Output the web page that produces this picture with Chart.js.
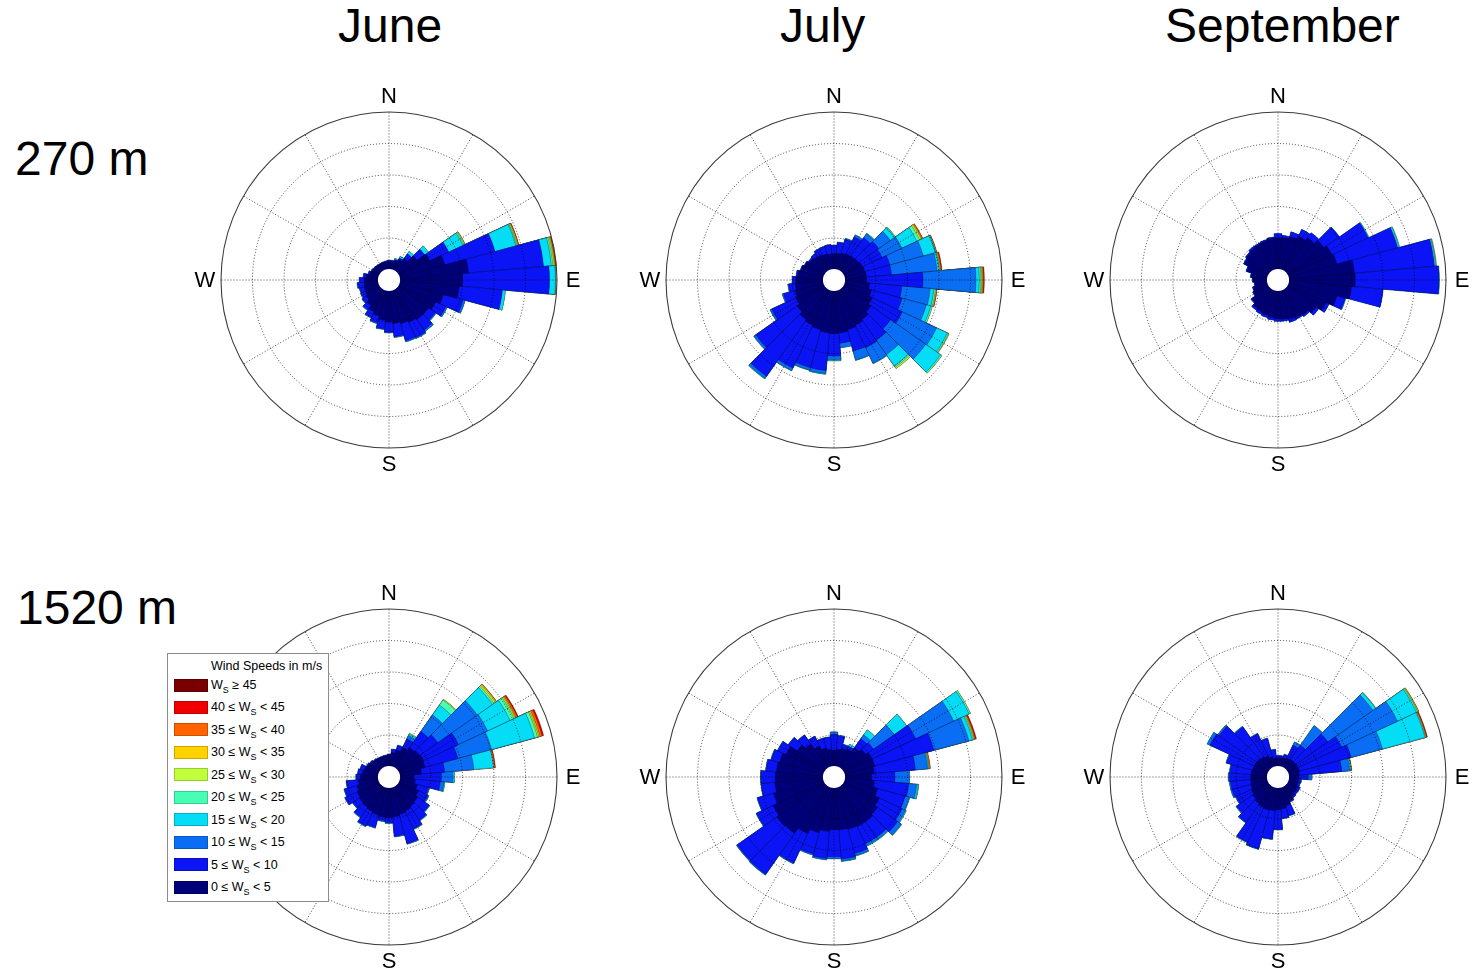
<!DOCTYPE html>
<html>
<head>
<meta charset="utf-8">
<title>Wind roses – June, July, September at 270 m and 1520 m</title>
<script src="https://cdn.jsdelivr.net/npm/chart.js@4.4.1/dist/chart.umd.min.js"></script>
<style>
  html, body { margin: 0; padding: 0; background: #fff; }
  body { position: relative; width: 1472px; height: 972px; overflow: hidden;
         font-family: "Liberation Sans", Arial, Helvetica, sans-serif; color: #000; }
  .big { position: absolute; font-size: 48px; line-height: 48px; white-space: nowrap; }
  .rose { position: absolute; width: 420px; height: 420px; }
  .legend { position: absolute; left: 167px; top: 653px; width: 160px; height: 247px;
            border: 1px solid #8c8c8c; background: #fff; z-index: 5; font-size: 12.5px; }
  .legend .head { position: absolute; left: 43px; top: 5px; white-space: nowrap; }
  .legend .row { position: absolute; left: 6px; height: 14px; white-space: nowrap;
                 display: flex; align-items: center; }
  .legend .sw { width: 34px; height: 13px; box-sizing: border-box; margin-right: 3px;
                border: 1px solid rgba(0,0,0,0.2); }
  .legend sub { font-size: 9px; vertical-align: -4px; line-height: 0; }
</style>
</head>
<body>

<div class="big" style="left:338px; top:2px;">June</div>
<div class="big" style="left:780px; top:2px;">July</div>
<div class="big" style="left:1165px; top:2px;">September</div>
<div class="big" style="left:15px; top:135px;">270 m</div>
<div class="big" style="left:17px; top:584px;">1520 m</div>

<div class="rose" style="left:179px; top:70px;"><canvas id="jun270" width="420" height="420"></canvas></div>
<div class="rose" style="left:624px; top:70px;"><canvas id="jul270" width="420" height="420"></canvas></div>
<div class="rose" style="left:1068px; top:70px;"><canvas id="sep270" width="420" height="420"></canvas></div>
<div class="rose" style="left:179px; top:567px;"><canvas id="jun1520" width="420" height="420"></canvas></div>
<div class="rose" style="left:624px; top:567px;"><canvas id="jul1520" width="420" height="420"></canvas></div>
<div class="rose" style="left:1068px; top:567px;"><canvas id="sep1520" width="420" height="420"></canvas></div>

<div class="legend" id="legend"><div class="head">Wind Speeds in m/s</div></div>

<script>
// Direction bins (degrees clockwise from north), 10° wide, centred on the value
const DIRECTIONS = [0,10,20,30,40,50,60,70,80,90,100,110,120,130,140,150,160,170,
                    180,190,200,210,220,230,240,250,260,270,280,290,300,310,320,330,340,350];

// Wind-speed classes (m/s): lower bounds; the last class is open-ended
const SPEED_BOUNDS = [0,5,10,15,20,25,30,35,40,45];
const SPEED_COLORS = ['#000078','#0a14f5','#0a6ef5','#05dcf5','#46ffb4',
                      '#c0ff3c','#ffd200','#ff6400','#f00000','#780000'];

// Frequency rings (one per unit) and the blank centre below zero
const RING_VALUES = [0,1,2,3,4,5];
const HOLE_VALUE = -1/3;
const SPOKE_ANGLES = [0,30,60,90,120,150,180,210,240,270,300,330];
const COMPASS = [['N',0],['E',90],['S',180],['W',270]];

/* ---------- June, 270 m ---------- */
const JUN270_0_5 = [
  .25,.26,.30,.38,.50,.75,1.10,1.50,2.20,2.00,1.90,1.45,
  1.30,1.20,1.20,1.15,1.10,1.05,1.00,.95,.85,.78,.65,.55,
  .50,.48,.46,.45,.40,.30,.27,.26,.25,.24,.24,.25];
const JUN270_5_10 = [
  .04,.03,.04,.06,.18,.30,.66,1.65,2.39,2.76,1.38,.65,
  .36,.26,.40,.53,.56,.42,.32,.27,.22,.19,.17,.15,
  .15,.15,.21,.15,.08,.05,.02,.01,.01,.01,.02,.02];
const JUN270_10_15 = [
  .01,.01,0,0,0,0,0,0,0,0,0,.07,
  .05,.04,.06,.04,.04,.03,.03,.03,.03,.03,.03,.02,
  .02,.02,.02,.02,.02,.01,.01,.01,.01,.01,.01,.01];
const JUN270_15_20 = [
  0,0,.04,.06,.10,.15,.50,.69,.25,.19,.10,0,
  0,0,0,0,0,0,0,0,0,0,0,0,
  0,0,0,0,0,0,0,0,0,0,0,0];
const JUN270_20_25 = [
  0,0,0,0,0,0,.04,.03,.05,.01,0,0,
  0,0,0,0,0,0,0,0,0,0,0,0,
  0,0,0,0,0,0,0,0,0,0,0,0];
const JUN270_25_30 = [
  0,0,0,0,0,0,.03,.03,.04,.01,0,0,
  0,0,0,0,0,0,0,0,0,0,0,0,
  0,0,0,0,0,0,0,0,0,0,0,0];
const JUN270_30_35 = [
  0,0,0,0,0,0,.01,.02,.03,0,0,0,
  0,0,0,0,0,0,0,0,0,0,0,0,
  0,0,0,0,0,0,0,0,0,0,0,0];
const JUN270_35_40 = [
  0,0,0,0,0,0,0,.02,.02,0,0,0,
  0,0,0,0,0,0,0,0,0,0,0,0,
  0,0,0,0,0,0,0,0,0,0,0,0];
const JUN270_40_45 = [
  0,0,0,0,0,0,0,0,.01,0,0,0,
  0,0,0,0,0,0,0,0,0,0,0,0,
  0,0,0,0,0,0,0,0,0,0,0,0];

/* ---------- July, 270 m ---------- */
const JUL270_0_5 = [
  .50,.52,.55,.58,.60,.62,.65,.68,.70,.70,.80,.90,
  1.00,1.10,1.20,1.25,1.30,1.35,1.37,1.35,1.30,1.25,1.20,1.10,
  1.00,.95,.90,.88,.82,.75,.68,.62,.58,.55,.52,.50];
const JUL270_5_10 = [
  .26,.34,.45,.60,.70,.78,.70,.82,.80,1.79,1.03,1.00,
  1.06,.76,.80,.79,.70,.33,.71,1.20,1.25,1.50,2.20,1.60,
  .85,.38,.21,.10,.05,.02,.03,.04,.11,.21,.25,.29];
const JUL270_10_15 = [
  .02,.02,.04,.07,.16,.45,.70,1.10,1.45,1.68,.90,.80,
  1.20,1.36,.56,.54,.30,.15,.11,.10,.08,.09,.08,.07,
  .05,.04,.03,.02,.01,.01,.01,.01,.01,.01,.01,.01];
const JUL270_15_20 = [
  0,0,0,0,.02,.17,.52,.40,.07,.11,.12,.15,
  .38,.58,.44,.02,.01,0,.03,.02,.01,.01,.02,.01,
  .01,0,0,0,0,0,0,0,0,0,0,0];
const JUL270_20_25 = [
  0,0,0,0,0,.03,.10,.02,.01,.05,.05,.05,
  .04,.05,.05,0,0,0,.02,0,0,0,0,0,
  0,0,0,0,0,0,0,0,0,0,0,0];
const JUL270_25_30 = [
  0,0,0,0,0,0,.05,.01,0,.03,0,0,
  .02,0,.05,0,0,0,0,0,0,0,0,0,
  0,0,0,0,0,0,0,0,0,0,0,0];
const JUL270_30_35 = [
  0,0,0,0,0,0,.03,0,.03,.03,.03,0,
  0,0,0,0,0,0,0,0,0,0,0,0,
  0,0,0,0,0,0,0,0,0,0,0,0];
const JUL270_35_40 = [
  0,0,0,0,0,0,.03,.02,.03,.03,.02,0,
  0,0,0,0,0,0,0,0,0,0,0,0,
  0,0,0,0,0,0,0,0,0,0,0,0];
const JUL270_40_45 = [
  0,0,0,0,0,0,0,0,.02,.02,0,0,
  0,0,0,0,0,0,0,0,0,0,0,0,
  0,0,0,0,0,0,0,0,0,0,0,0];

/* ---------- September, 270 m ---------- */
const SEP270_0_5 = [
  1.00,1.02,1.10,1.20,1.30,1.45,1.55,1.60,2.10,2.12,2.00,1.60,
  1.35,1.15,1.02,.98,.95,.92,.90,.87,.83,.80,.78,.68,
  .53,.48,.41,.46,.52,.68,.84,.89,.93,.94,.96,1.00];
const SEP270_5_10 = [
  .14,.07,.15,.24,.20,.60,1.28,2.00,2.55,2.65,1.02,.28,
  .11,.10,.07,.06,.11,.06,.08,.08,.08,.08,.07,.04,
  .03,.03,.02,.02,.03,.04,.04,.04,.05,.04,.04,.04];
const SEP270_10_15 = [
  0,0,0,0,0,0,0,0,0,.02,0,0,
  0,0,0,0,0,0,0,0,0,0,0,0,
  0,0,0,0,0,0,0,0,0,0,0,0];
const SEP270_15_20 = [
  0,0,0,0,0,0,.03,.05,.04,0,0,.02,
  0,0,0,0,0,0,0,0,0,0,0,0,
  0,0,0,0,0,0,0,0,0,0,0,0];
const SEP270_20_25 = [
  0,0,0,0,0,0,0,.02,.02,0,0,0,
  0,0,0,0,0,0,0,0,0,0,0,0,
  0,0,0,0,0,0,0,0,0,0,0,0];
const SEP270_30_35 = [
  0,0,0,0,0,0,0,0,.01,0,0,0,
  0,0,0,0,0,0,0,0,0,0,0,0,
  0,0,0,0,0,0,0,0,0,0,0,0];

/* ---------- June, 1520 m ---------- */
const JUN1520_0_5 = [
  .36,.45,.55,.70,.80,.85,.88,.85,.70,.45,.50,.60,
  .70,.78,.82,.86,.90,.94,.96,.95,.92,.88,.85,.82,
  .78,.72,.65,.58,.52,.47,.42,.38,.35,.34,.34,.35];
const JUN1520_5_10 = [
  .04,.10,.15,.30,.63,.71,1.22,1.08,.74,.88,.80,.36,
  .33,.44,.52,.62,.95,.61,.15,.11,.40,.50,.37,.25,
  .42,.41,.37,.13,.14,.14,.04,.04,.03,.02,.02,.02];
const JUN1520_10_15 = [
  0,.01,.02,.12,.64,1.53,1.02,1.11,.93,.37,.12,.04,
  .04,.03,.03,.03,.03,.03,.03,.03,.03,.03,.03,.02,
  .02,.02,.02,.01,.01,.01,0,0,0,0,0,0];
const JUN1520_15_20 = [
  0,0,0,.05,.38,.59,.79,1.41,.63,.05,.03,0,
  0,0,0,0,0,0,0,0,0,0,0,0,
  0,0,0,0,0,0,0,0,0,0,0,0];
const JUN1520_20_25 = [
  0,0,0,.03,.20,.06,.14,.10,0,0,0,0,
  0,0,0,0,0,0,0,0,0,0,0,0,
  0,0,0,0,0,0,0,0,0,0,0,0];
const JUN1520_25_30 = [
  0,0,0,0,.03,.05,.04,.04,0,0,0,0,
  0,0,0,0,0,0,0,0,0,0,0,0,
  0,0,0,0,0,0,0,0,0,0,0,0];
const JUN1520_30_35 = [
  0,0,0,0,0,.04,.03,.04,0,0,0,0,
  0,0,0,0,0,0,0,0,0,0,0,0,
  0,0,0,0,0,0,0,0,0,0,0,0];
const JUN1520_35_40 = [
  0,0,0,0,0,.01,.05,.07,.04,0,0,0,
  0,0,0,0,0,0,0,0,0,0,0,0,
  0,0,0,0,0,0,0,0,0,0,0,0];
const JUN1520_40_45 = [
  0,0,0,0,0,0,.03,.05,.02,0,0,0,
  0,0,0,0,0,0,0,0,0,0,0,0,
  0,0,0,0,0,0,0,0,0,0,0,0];

/* ---------- July, 1520 m ---------- */
const JUL1520_0_5 = [
  .52,.55,.60,.65,.80,.90,1.00,1.00,.95,.86,.95,1.10,
  1.25,1.35,1.40,1.40,1.38,1.35,1.34,1.40,1.50,1.65,1.85,1.88,
  1.80,1.65,1.55,1.53,1.50,1.45,1.35,1.10,.95,.75,.62,.55];
const JUL1520_5_10 = [
  .50,.42,.13,.10,.35,.30,1.53,1.95,1.31,.74,1.10,.90,
  .80,.78,.60,.60,.80,.93,.86,.86,.69,1.03,1.59,1.54,
  .58,.53,.43,.45,.33,.28,.28,.34,.34,.34,.32,.39];
const JUL1520_10_15 = [
  .08,.03,.02,0,.15,.80,1.33,1.15,.39,.47,.25,.14,
  .12,.14,.08,.08,.07,.06,.07,.05,.04,.03,.03,.03,
  .02,.02,.02,.02,.02,.02,.02,.01,.01,.01,.01,.01];
const JUL1520_15_20 = [
  0,0,0,.07,.20,.49,.54,.12,.03,0,.05,.02,
  .03,.02,.02,.02,.02,.02,0,0,0,0,0,0,
  0,0,0,0,0,0,0,0,0,0,0,0];
const JUL1520_20_25 = [
  0,0,0,0,0,0,.05,.04,.02,0,.02,0,
  0,0,0,0,0,0,0,0,0,0,0,0,
  0,0,0,0,0,0,0,0,0,0,0,0];
const JUL1520_30_35 = [
  0,0,0,0,0,0,0,.03,0,0,0,0,
  0,0,0,0,0,0,0,0,0,0,0,0,
  0,0,0,0,0,0,0,0,0,0,0,0];
const JUL1520_35_40 = [
  0,0,0,0,0,0,0,.03,.04,0,0,0,
  0,0,0,0,0,0,0,0,0,0,0,0,
  0,0,0,0,0,0,0,0,0,0,0,0];
const JUL1520_40_45 = [
  0,0,0,0,0,0,0,.03,0,0,0,0,
  0,0,0,0,0,0,0,0,0,0,0,0,
  0,0,0,0,0,0,0,0,0,0,0,0];

/* ---------- September, 1520 m ---------- */
const SEP1520_0_5 = [
  .26,.28,.30,.33,.35,.36,.37,.37,.35,.33,.32,.32,
  .35,.38,.42,.50,.60,.68,.71,.74,.76,.74,.70,.65,
  .60,.56,.54,.53,.52,.50,.50,.48,.45,.40,.33,.28];
const SEP1520_5_10 = [
  .09,.07,.10,.45,.55,1.24,1.53,1.70,1.35,.30,.08,.07,
  .09,.06,.05,.04,.33,.30,.62,.90,1.27,1.21,.73,.62,
  .53,.62,.64,.68,.67,.85,1.55,1.47,1.15,.78,.60,.26];
const SEP1520_10_15 = [
  0,0,.02,.12,.76,1.75,1.95,1.03,.25,.10,.02,.01,
  .01,.01,.01,.01,.02,.02,.02,.02,.02,.02,.02,.03,
  .03,.04,.04,.04,.03,.03,.10,.05,.03,.02,.02,.01];
const SEP1520_15_20 = [
  0,0,0,0,0,.10,.67,1.40,.03,.02,0,0,
  0,0,0,0,0,0,0,0,0,0,0,0,
  0,0,0,0,0,0,0,0,0,0,0,0];
const SEP1520_20_25 = [
  0,0,0,0,0,.02,.04,.02,.02,0,0,0,
  0,0,0,0,0,0,0,0,0,0,0,0,
  0,0,0,0,0,0,0,0,0,0,0,0];
const SEP1520_25_30 = [
  0,0,0,0,0,0,.02,0,0,0,0,0,
  0,0,0,0,0,0,0,0,0,0,0,0,
  0,0,0,0,0,0,0,0,0,0,0,0];
const SEP1520_30_35 = [
  0,0,0,0,0,0,.02,.02,0,0,0,0,
  0,0,0,0,0,0,0,0,0,0,0,0,
  0,0,0,0,0,0,0,0,0,0,0,0];
const SEP1520_35_40 = [
  0,0,0,0,0,0,0,.02,.02,0,0,0,
  0,0,0,0,0,0,0,0,0,0,0,0,
  0,0,0,0,0,0,0,0,0,0,0,0];
const SEP1520_40_45 = [
  0,0,0,0,0,0,0,.02,0,0,0,0,
  0,0,0,0,0,0,0,0,0,0,0,0,
  0,0,0,0,0,0,0,0,0,0,0,0];

// One entry per speed class (null = no observations in that class)
const PANELS = [
  { canvas: 'jun270',  classes: [JUN270_0_5, JUN270_5_10, JUN270_10_15, JUN270_15_20, JUN270_20_25, JUN270_25_30, JUN270_30_35, JUN270_35_40, JUN270_40_45, null] },
  { canvas: 'jul270',  classes: [JUL270_0_5, JUL270_5_10, JUL270_10_15, JUL270_15_20, JUL270_20_25, JUL270_25_30, JUL270_30_35, JUL270_35_40, JUL270_40_45, null] },
  { canvas: 'sep270',  classes: [SEP270_0_5, SEP270_5_10, SEP270_10_15, SEP270_15_20, SEP270_20_25, null, SEP270_30_35, null, null, null] },
  { canvas: 'jun1520', classes: [JUN1520_0_5, JUN1520_5_10, JUN1520_10_15, JUN1520_15_20, JUN1520_20_25, JUN1520_25_30, JUN1520_30_35, JUN1520_35_40, JUN1520_40_45, null] },
  { canvas: 'jul1520', classes: [JUL1520_0_5, JUL1520_5_10, JUL1520_10_15, JUL1520_15_20, JUL1520_20_25, null, JUL1520_30_35, JUL1520_35_40, JUL1520_40_45, null] },
  { canvas: 'sep1520', classes: [SEP1520_0_5, SEP1520_5_10, SEP1520_10_15, SEP1520_15_20, SEP1520_20_25, SEP1520_25_30, SEP1520_30_35, SEP1520_35_40, SEP1520_40_45, null] }
];

function classLabel(k) {
  const lo = SPEED_BOUNDS[k], hi = SPEED_BOUNDS[k + 1];
  return hi === undefined ? `W_S ≥ ${lo}` : `${lo} ≤ W_S < ${hi}`;
}

// Running totals so that each class sits on top of the slower ones
function stackClasses(classes) {
  const run = DIRECTIONS.map(() => 0);
  const out = [];
  classes.forEach((arr, k) => {
    if (!arr) return;
    arr.forEach((v, i) => { run[i] = Math.round((run[i] + v) * 1000) / 1000; });
    out.push({ k, own: arr, data: run.slice() });
  });
  return out;
}

const OUTER = RING_VALUES[RING_VALUES.length - 1];
const DOT = 'rgba(0,0,0,0.8)';
const DOT_DASH = [1, 2];

// Spokes, blank centre and compass letters, drawn over the bars
const roseFrame = {
  id: 'roseFrame',
  afterDraw(chart) {
    const s = chart.scales.r;
    const ctx = chart.ctx;
    const cx = s.xCenter, cy = s.yCenter;
    const r0 = s.getDistanceFromCenterForValue(0);
    const r1 = s.getDistanceFromCenterForValue(OUTER);
    ctx.save();
    ctx.strokeStyle = DOT;
    ctx.lineWidth = 0.9;
    ctx.setLineDash(DOT_DASH);
    SPOKE_ANGLES.forEach(deg => {
      const a = deg * Math.PI / 180;
      ctx.beginPath();
      ctx.moveTo(cx + r0 * Math.sin(a), cy - r0 * Math.cos(a));
      ctx.lineTo(cx + r1 * Math.sin(a), cy - r1 * Math.cos(a));
      ctx.stroke();
    });
    ctx.setLineDash([]);
    ctx.fillStyle = '#fff';
    ctx.beginPath();
    ctx.arc(cx, cy, r0 + 0.6, 0, Math.PI * 2);
    ctx.fill();
    ctx.fillStyle = '#000';
    ctx.font = '22px "Liberation Sans", Arial, sans-serif';
    ctx.textAlign = 'center';
    ctx.textBaseline = 'middle';
    const rl = r1 + 16;
    COMPASS.forEach(([txt, deg]) => {
      const a = deg * Math.PI / 180;
      ctx.fillText(txt, cx + rl * Math.sin(a), cy - rl * Math.cos(a) + 1);
    });
    ctx.restore();
  }
};

PANELS.forEach(p => {
  const stacks = stackClasses(p.classes);
  new Chart(document.getElementById(p.canvas), {
    type: 'polarArea',
    data: {
      labels: DIRECTIONS.map(d => d + '°'),
      datasets: stacks.map(st => ({
        label: classLabel(st.k),
        data: st.data,
        backgroundColor: SPEED_COLORS[st.k],
        borderColor: 'rgba(0,0,30,0.55)',
        borderWidth: c => (c.dataIndex !== undefined && st.own[c.dataIndex] > 0) ? 0.6 : 0,
        spacing: 0
      }))
    },
    options: {
      responsive: false,
      maintainAspectRatio: false,
      animation: false,
      events: [],
      layout: { padding: 42 },
      plugins: { legend: { display: false }, tooltip: { enabled: false } },
      scales: {
        r: {
          min: HOLE_VALUE,
          max: OUTER,
          startAngle: -5,
          ticks: { display: false },
          afterBuildTicks: scale => { scale.ticks = RING_VALUES.map(v => ({ value: v })); },
          angleLines: { display: false },
          pointLabels: { display: false },
          grid: {
            z: 1,
            circular: true,
            color: c => !c.tick || c.tick.value === 0 ? 'rgba(0,0,0,0)'
                       : (c.tick.value === OUTER ? '#3c3c3c' : DOT),
            lineWidth: c => !c.tick || c.tick.value === 0 ? 0
                       : (c.tick.value === OUTER ? 1.1 : 0.9)
          },
          border: {
            dash: c => (c.tick && c.tick.value === OUTER) ? [] : DOT_DASH
          }
        }
      }
    },
    plugins: [roseFrame]
  });
});

// Legend: fastest class on top
const legend = document.getElementById('legend');
for (let k = SPEED_BOUNDS.length - 1, row = 0; k >= 0; k--, row++) {
  const div = document.createElement('div');
  div.className = 'row';
  div.style.top = (31 + row * 22.45 - 7) + 'px';
  const sw = document.createElement('span');
  sw.className = 'sw';
  sw.style.background = SPEED_COLORS[k];
  const txt = document.createElement('span');
  const lo = SPEED_BOUNDS[k], hi = SPEED_BOUNDS[k + 1];
  txt.innerHTML = hi === undefined
    ? 'W<sub>S</sub> \u2265 ' + lo
    : lo + ' \u2264 W<sub>S</sub> &lt; ' + hi;
  div.appendChild(sw);
  div.appendChild(txt);
  legend.appendChild(div);
}
</script>
</body>
</html>
